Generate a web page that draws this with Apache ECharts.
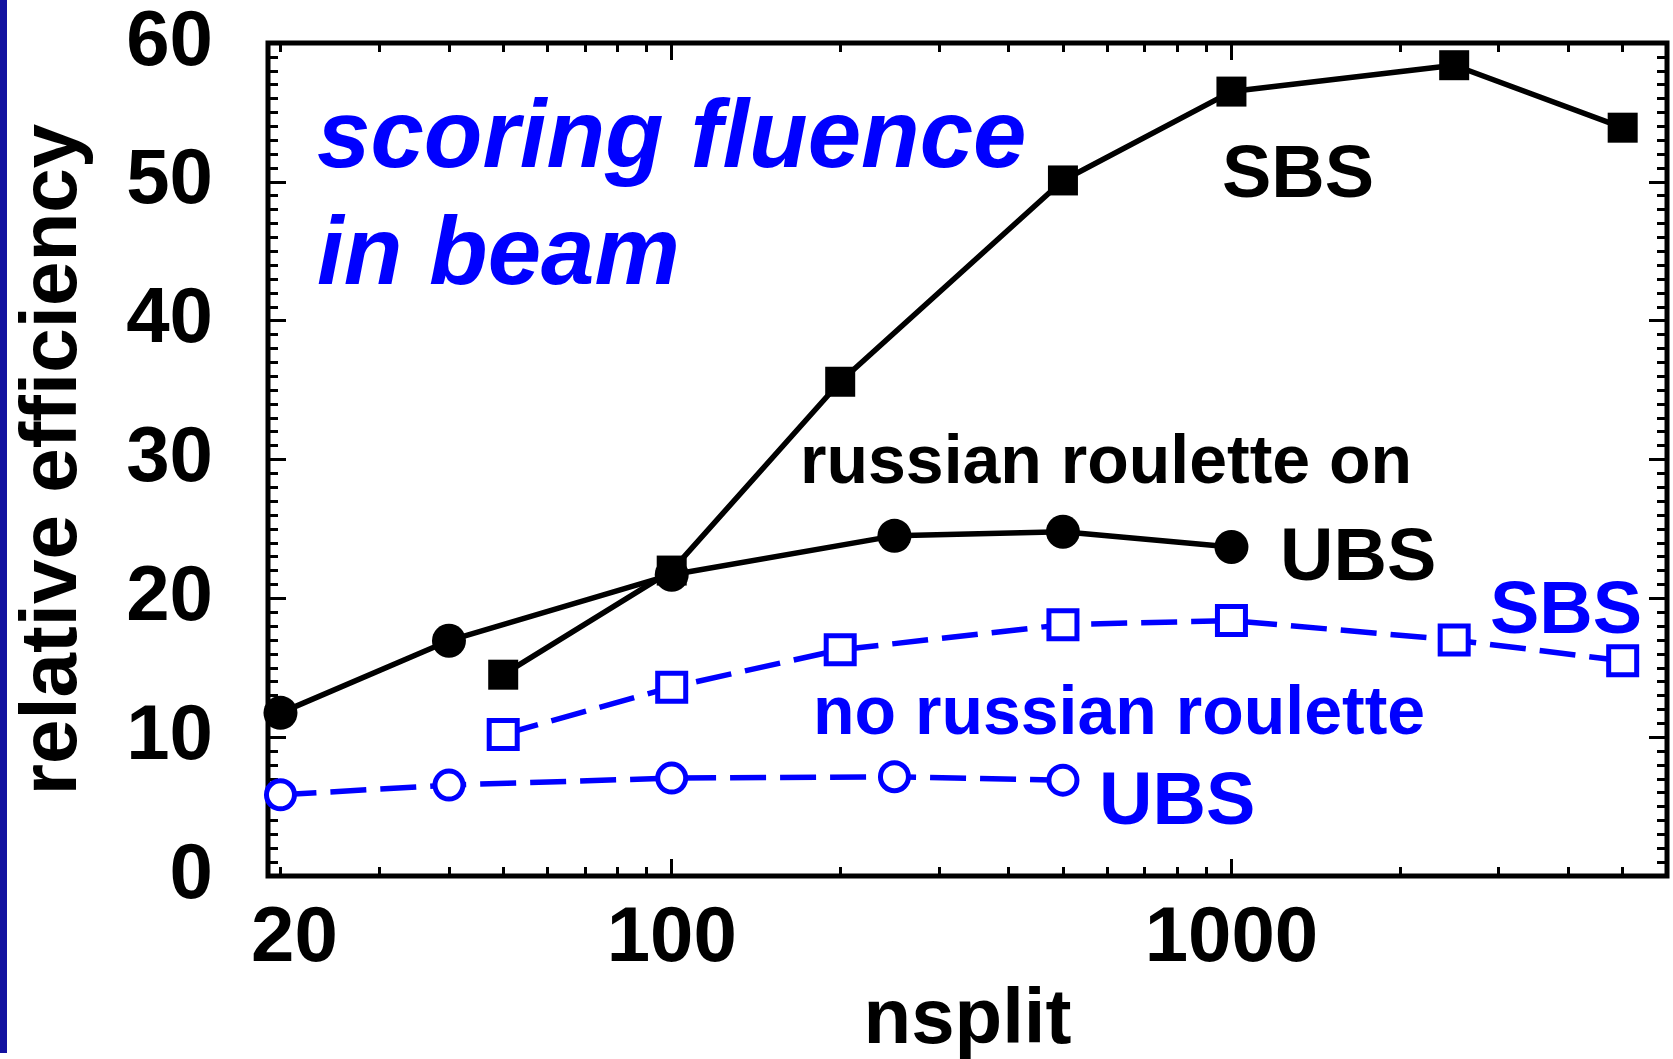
<!DOCTYPE html>
<html>
<head>
<meta charset="utf-8">
<script src="https://cdn.jsdelivr.net/npm/echarts@6/dist/echarts.min.js"></script>
<style>
html,body{margin:0;padding:0;background:#fff;}
#chart{width:1673px;height:1059px;}
</style>
</head>
<body>
<div id="chart"></div>
<script>
// ---- data ----
const nsplitSBS   = [50, 100, 200, 500, 1000, 2500, 5000];
const nsplitUBSon = [20, 40, 100, 250, 500, 1000];
const nsplitUBSno = [20, 40, 100, 250, 500];
const sbsRROn  = [14.5, 22.0, 35.6, 50.1, 56.5, 58.4, 53.9];
const ubsRROn  = [11.75, 16.95, 21.7, 24.5, 24.8, 23.7];
const sbsNoRR  = [10.2, 13.6, 16.3, 18.1, 18.4, 17.0, 15.5];
const ubsNoRR  = [5.85, 6.55, 7.05, 7.15, 6.9];

const xTickLabels = [20, 100, 1000];
const xMajorTicks = [100, 1000];
const xMinorTicks = [20, 30, 40, 50, 60, 70, 80, 90, 200, 300, 400, 500, 600, 700, 800, 900, 2000, 3000, 4000, 5000];
const yTickLabels = [0, 10, 20, 30, 40, 50, 60];

const X_MIN = 19, X_MAX = 6000;
const LOG_MIN = Math.log10(X_MIN), LOG_MAX = Math.log10(X_MAX);

const FONT = 'Liberation Sans, Arial, Helvetica, sans-serif';
const BLUE = '#0000ff';
const BLACK = '#000000';

function zip(xs, ys) { return xs.map((x, i) => [x, ys[i]]); }

const chart = echarts.init(document.getElementById('chart'), null, {renderer: 'canvas'});

const tickStyle = {width: 3, color: BLACK};
function tickAxis(position, values, len, withLabels) {
  const ax = {
    type: 'value', position: position, min: LOG_MIN, max: LOG_MAX,
    axisLine: {show: false, onZero: false},
    splitLine: {show: false},
    axisTick: {show: true, inside: true, length: len, lineStyle: tickStyle,
               customValues: values.map(v => Math.log10(v))},
    axisLabel: {show: false}
  };
  if (withLabels) {
    ax.axisLabel = {
      show: true,
      customValues: xTickLabels.map(v => Math.log10(v)),
      formatter: function (v) {
        const n = Math.round(Math.pow(10, v));
        return n === 20 ? '{s|20}' : String(n);
      },
      rich: {s: {padding: [0, 0, 0, 28], fontSize: 78, fontWeight: 'bold', color: BLACK, fontFamily: FONT}},
      fontSize: 78, fontWeight: 'bold', color: BLACK, fontFamily: FONT, margin: 24
    };
    ax.name = 'nsplit';
    ax.nameLocation = 'middle';
    ax.nameGap = 100;
    ax.nameTextStyle = {fontSize: 78, fontWeight: 'bold', color: BLACK, fontFamily: FONT};
  }
  return ax;
}

function yAx(position, withLabels) {
  const ax = {
    type: 'value', position: position, min: 0, max: 60, interval: 10,
    axisLine: {show: false, onZero: false},
    splitLine: {show: false},
    minorSplitLine: {show: false},
    axisTick: {show: true, inside: true, length: 18, lineStyle: tickStyle},
    minorTick: {show: true, splitNumber: 10, length: 10, lineStyle: tickStyle},
    axisLabel: {show: false}
  };
  if (withLabels) {
    ax.axisLabel = {show: true, fontSize: 78, fontWeight: 'bold', color: BLACK, fontFamily: FONT, margin: 55,
                    formatter: v => (yTickLabels.indexOf(v) >= 0 ? String(v) : '')};
    ax.name = 'relative efficiency';
    ax.nameLocation = 'middle';
    ax.nameGap = 174;
    ax.nameTextStyle = {fontSize: 80, fontWeight: 'bold', color: BLACK, fontFamily: FONT};
  }
  return ax;
}

function label(text, x, y, size, color, italic) {
  return {
    type: 'text', x: x, y: y, z: 100,
    style: {text: text, fontSize: size, fontWeight: 'bold', fontStyle: italic ? 'italic' : 'normal',
            fontFamily: FONT, fill: color, verticalAlign: 'middle', align: 'left'}
  };
}

const option = {
  animation: false,
  backgroundColor: '#ffffff',
  textStyle: {fontFamily: FONT},
  grid: {left: 268, top: 43, right: 6, bottom: 183, show: true, borderColor: BLACK, borderWidth: 5,
         backgroundColor: 'transparent', containLabel: false, outerBoundsMode: 'none'},
  xAxis: [
    {type: 'log', logBase: 10, min: X_MIN, max: X_MAX, show: false},
    tickAxis('bottom', xMajorTicks, 17, true),
    tickAxis('bottom', xMinorTicks, 9, false),
    tickAxis('top', xMajorTicks, 17, false),
    tickAxis('top', xMinorTicks, 9, false)
  ],
  yAxis: [yAx('left', true), yAx('right', false)],
  series: [
    {
      name: 'SBS RR on', type: 'line', xAxisIndex: 0, yAxisIndex: 0,
      data: zip(nsplitSBS, sbsRROn),
      symbol: 'rect', symbolSize: 30,
      lineStyle: {color: BLACK, width: 5.5},
      itemStyle: {color: BLACK}
    },
    {
      name: 'UBS RR on', type: 'line', xAxisIndex: 0, yAxisIndex: 0,
      data: zip(nsplitUBSon, ubsRROn),
      symbol: 'circle', symbolSize: 34,
      lineStyle: {color: BLACK, width: 5.5},
      itemStyle: {color: BLACK}
    },
    {
      name: 'SBS no RR', type: 'line', xAxisIndex: 0, yAxisIndex: 0,
      data: zip(nsplitSBS, sbsNoRR),
      symbol: 'rect', symbolSize: 28,
      lineStyle: {color: BLUE, width: 5.5, type: [36, 14]},
      itemStyle: {color: '#ffffff', borderColor: BLUE, borderWidth: 5}
    },
    {
      name: 'UBS no RR', type: 'line', xAxisIndex: 0, yAxisIndex: 0,
      data: zip(nsplitUBSno, ubsNoRR),
      symbol: 'circle', symbolSize: 28,
      lineStyle: {color: BLUE, width: 5.5, type: [36, 14]},
      itemStyle: {color: '#ffffff', borderColor: BLUE, borderWidth: 5}
    }
  ],
  graphic: [
    {type: 'rect', shape: {x: 0, y: 0, width: 7, height: 1053}, style: {fill: '#1212a0'}, z: 100},
    label('scoring fluence', 317, 141, 96, BLUE, true),
    label('in beam', 317, 258, 96, BLUE, true),
    label('SBS', 1222, 177, 74, BLACK, false),
    label('russian roulette on', 800, 464, 68, BLACK, false),
    label('UBS', 1280, 560, 74, BLACK, false),
    label('SBS', 1490, 613, 74, BLUE, false),
    label('no russian roulette', 813, 715, 68, BLUE, false),
    label('UBS', 1099, 804, 74, BLUE, false)
  ]
};
chart.setOption(option);
</script>
</body>
</html>
